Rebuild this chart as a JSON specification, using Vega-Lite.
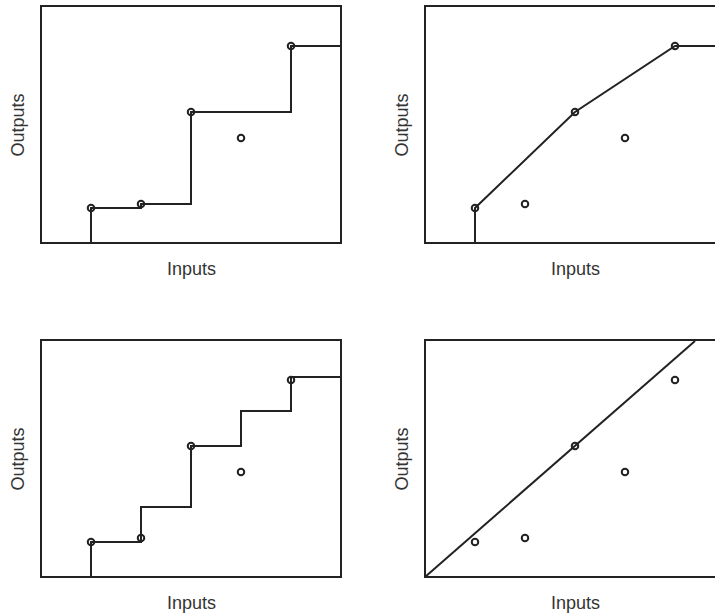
{
  "$schema": "https://vega.github.io/schema/vega-lite/v6.json",
  "background": "white",
  "padding": {"left": 8, "top": 5, "right": 5, "bottom": 5},
  "config": {
    "view": {"stroke": "#222", "strokeWidth": 2},
    "axis": {"domain": false, "ticks": false, "labels": false, "grid": false, "titleFont": "Liberation Sans", "titleFontSize": 18, "titleFontWeight": "normal", "titleColor": "#333"},
    "axisX": {"titlePadding": 17},
    "axisY": {"titlePadding": 14}
  },
  "datasets": {
    "pts": [
      {"x": 1, "y": 0.7},
      {"x": 2, "y": 0.78},
      {"x": 3, "y": 2.62},
      {"x": 4, "y": 2.1},
      {"x": 5, "y": 3.94}
    ],
    "fdh": [
      {"o": 1, "x": 1, "y": 0},
      {"o": 2, "x": 1, "y": 0.7},
      {"o": 3, "x": 2, "y": 0.7},
      {"o": 4, "x": 2, "y": 0.78},
      {"o": 5, "x": 3, "y": 0.78},
      {"o": 6, "x": 3, "y": 2.62},
      {"o": 7, "x": 5, "y": 2.62},
      {"o": 8, "x": 5, "y": 3.94},
      {"o": 9, "x": 6, "y": 3.94}
    ],
    "vrs": [
      {"o": 1, "x": 1, "y": 0},
      {"o": 2, "x": 1, "y": 0.7},
      {"o": 3, "x": 3, "y": 2.62},
      {"o": 4, "x": 5, "y": 3.94},
      {"o": 5, "x": 6, "y": 3.94}
    ],
    "frh": [
      {"o": 1, "x": 1, "y": 0},
      {"o": 2, "x": 1, "y": 0.7},
      {"o": 3, "x": 2, "y": 0.7},
      {"o": 4, "x": 2, "y": 1.4},
      {"o": 5, "x": 3, "y": 1.4},
      {"o": 6, "x": 3, "y": 2.62},
      {"o": 7, "x": 4, "y": 2.62},
      {"o": 8, "x": 4, "y": 3.32},
      {"o": 9, "x": 5, "y": 3.32},
      {"o": 10, "x": 5, "y": 4.0},
      {"o": 11, "x": 6, "y": 4.0}
    ],
    "crs": [
      {"o": 1, "x": 0, "y": 0},
      {"o": 2, "x": 5.4, "y": 4.72}
    ]
  },
  "columns": 2,
  "spacing": {"row": 97, "column": 84},
  "bounds": "flush",
  "concat": [
    {
      "width": 300, "height": 237,
      "encoding": {
        "x": {"field": "x", "type": "quantitative", "scale": {"domain": [0, 6], "nice": false}, "axis": {"title": "Inputs"}},
        "y": {"field": "y", "type": "quantitative", "scale": {"domain": [0, 4.74], "nice": false}, "axis": {"title": "Outputs"}}
      },
      "layer": [
        {"data": {"name": "fdh"}, "mark": {"type": "line", "color": "#222", "strokeWidth": 2}, "encoding": {"order": {"field": "o", "type": "quantitative"}}},
        {"data": {"name": "pts"}, "mark": {"type": "point", "shape": "circle", "filled": false, "size": 42, "strokeWidth": 2, "color": "#222", "opacity": 1}}
      ]
    },
    {
      "width": 300, "height": 237,
      "encoding": {
        "x": {"field": "x", "type": "quantitative", "scale": {"domain": [0, 6], "nice": false}, "axis": {"title": "Inputs"}},
        "y": {"field": "y", "type": "quantitative", "scale": {"domain": [0, 4.74], "nice": false}, "axis": {"title": "Outputs"}}
      },
      "layer": [
        {"data": {"name": "vrs"}, "mark": {"type": "line", "color": "#222", "strokeWidth": 2}, "encoding": {"order": {"field": "o", "type": "quantitative"}}},
        {"data": {"name": "pts"}, "mark": {"type": "point", "shape": "circle", "filled": false, "size": 42, "strokeWidth": 2, "color": "#222", "opacity": 1}}
      ]
    },
    {
      "width": 300, "height": 237,
      "encoding": {
        "x": {"field": "x", "type": "quantitative", "scale": {"domain": [0, 6], "nice": false}, "axis": {"title": "Inputs"}},
        "y": {"field": "y", "type": "quantitative", "scale": {"domain": [0, 4.74], "nice": false}, "axis": {"title": "Outputs"}}
      },
      "layer": [
        {"data": {"name": "frh"}, "mark": {"type": "line", "color": "#222", "strokeWidth": 2}, "encoding": {"order": {"field": "o", "type": "quantitative"}}},
        {"data": {"name": "pts"}, "mark": {"type": "point", "shape": "circle", "filled": false, "size": 42, "strokeWidth": 2, "color": "#222", "opacity": 1}}
      ]
    },
    {
      "width": 300, "height": 237,
      "encoding": {
        "x": {"field": "x", "type": "quantitative", "scale": {"domain": [0, 6], "nice": false}, "axis": {"title": "Inputs"}},
        "y": {"field": "y", "type": "quantitative", "scale": {"domain": [0, 4.74], "nice": false}, "axis": {"title": "Outputs"}}
      },
      "layer": [
        {"data": {"name": "crs"}, "mark": {"type": "line", "color": "#222", "strokeWidth": 2}, "encoding": {"order": {"field": "o", "type": "quantitative"}}},
        {"data": {"name": "pts"}, "mark": {"type": "point", "shape": "circle", "filled": false, "size": 42, "strokeWidth": 2, "color": "#222", "opacity": 1}}
      ]
    }
  ]
}
